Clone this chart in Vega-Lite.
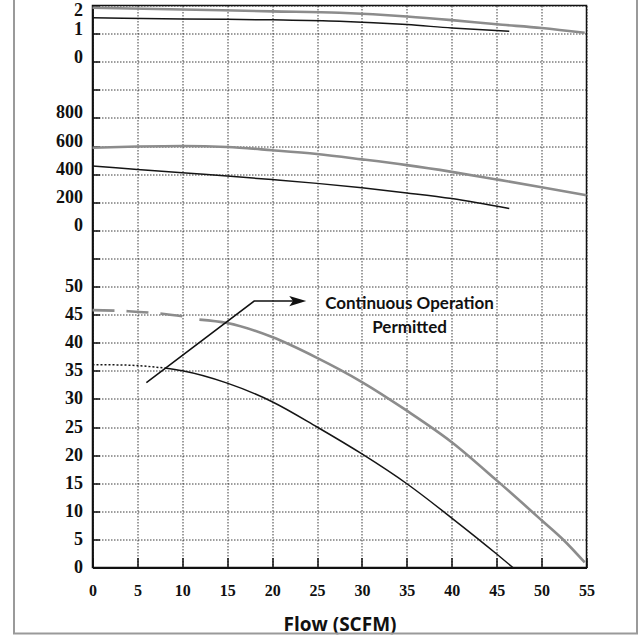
{
  "$schema": "https://vega.github.io/schema/vega-lite/v6.json",
  "width": 494,
  "height": 562,
  "autosize": {"type": "none"},
  "padding": {"left": 92.5, "top": 5.5, "right": 55.5, "bottom": 72.5},
  "background": "white",
  "config": {
    "view": {"stroke": "#111", "strokeWidth": 1.5},
    "legend": {"strokeWidth": 2},
    "axis": {
      "labelFont": "Liberation Serif",
      "labelFontWeight": "bold",
      "labelColor": "#111",
      "domainColor": "#111",
      "domainWidth": 1.8,
      "tickColor": "#111",
      "tickWidth": 1.5,
      "gridColor": "#1a1a1a",
      "gridDash": [1.5, 1.5],
      "gridWidth": 1,
      "gridOpacity": 0.85
    }
  },
  "datasets": {
    "pressure": [
      {"flow": 0, "psi": 45.8, "curve": "upper", "zone": "intermittent"},
      {"flow": 4, "psi": 45.6, "curve": "upper", "zone": "intermittent"},
      {"flow": 8, "psi": 45.1, "curve": "upper", "zone": "intermittent"},
      {"flow": 10.4, "psi": 44.6, "curve": "upper", "zone": "intermittent"},
      {"flow": 11.9, "psi": 44.1, "curve": "upper", "zone": "continuous"},
      {"flow": 15, "psi": 43.5, "curve": "upper", "zone": "continuous"},
      {"flow": 20, "psi": 41.0, "curve": "upper", "zone": "continuous"},
      {"flow": 25, "psi": 37.3, "curve": "upper", "zone": "continuous"},
      {"flow": 30, "psi": 33.0, "curve": "upper", "zone": "continuous"},
      {"flow": 35, "psi": 27.9, "curve": "upper", "zone": "continuous"},
      {"flow": 40, "psi": 22.3, "curve": "upper", "zone": "continuous"},
      {"flow": 45, "psi": 15.5, "curve": "upper", "zone": "continuous"},
      {"flow": 50, "psi": 8.4, "curve": "upper", "zone": "continuous"},
      {"flow": 52.5, "psi": 4.8, "curve": "upper", "zone": "continuous"},
      {"flow": 54.8, "psi": 0.9, "curve": "upper", "zone": "continuous"},
      {"flow": 0, "psi": 36.1, "curve": "lower", "zone": "intermittent"},
      {"flow": 4, "psi": 36.0, "curve": "lower", "zone": "intermittent"},
      {"flow": 8, "psi": 35.5, "curve": "lower", "zone": "intermittent"},
      {"flow": 8, "psi": 35.5, "curve": "lower", "zone": "continuous"},
      {"flow": 10, "psi": 35.0, "curve": "lower", "zone": "continuous"},
      {"flow": 15, "psi": 32.8, "curve": "lower", "zone": "continuous"},
      {"flow": 20, "psi": 29.5, "curve": "lower", "zone": "continuous"},
      {"flow": 25, "psi": 25.0, "curve": "lower", "zone": "continuous"},
      {"flow": 30, "psi": 20.2, "curve": "lower", "zone": "continuous"},
      {"flow": 35, "psi": 14.9, "curve": "lower", "zone": "continuous"},
      {"flow": 40, "psi": 8.8, "curve": "lower", "zone": "continuous"},
      {"flow": 45, "psi": 2.4, "curve": "lower", "zone": "continuous"},
      {"flow": 46.8, "psi": 0, "curve": "lower", "zone": "continuous"}
    ],
    "power": [
      {"flow": 0, "watts": 588, "curve": "upper"},
      {"flow": 5, "watts": 596, "curve": "upper"},
      {"flow": 10, "watts": 600, "curve": "upper"},
      {"flow": 15, "watts": 593, "curve": "upper"},
      {"flow": 20, "watts": 570, "curve": "upper"},
      {"flow": 25, "watts": 543, "curve": "upper"},
      {"flow": 30, "watts": 505, "curve": "upper"},
      {"flow": 35, "watts": 464, "curve": "upper"},
      {"flow": 40, "watts": 416, "curve": "upper"},
      {"flow": 45, "watts": 362, "curve": "upper"},
      {"flow": 50, "watts": 307, "curve": "upper"},
      {"flow": 55, "watts": 250, "curve": "upper"},
      {"flow": 0, "watts": 457, "curve": "lower"},
      {"flow": 5, "watts": 433, "curve": "lower"},
      {"flow": 10, "watts": 409, "curve": "lower"},
      {"flow": 15, "watts": 386, "curve": "lower"},
      {"flow": 20, "watts": 361, "curve": "lower"},
      {"flow": 25, "watts": 334, "curve": "lower"},
      {"flow": 30, "watts": 302, "curve": "lower"},
      {"flow": 35, "watts": 266, "curve": "lower"},
      {"flow": 40, "watts": 226, "curve": "lower"},
      {"flow": 46.4, "watts": 155, "curve": "lower"}
    ],
    "current": [
      {"flow": 0, "amps": 1.92, "curve": "upper"},
      {"flow": 10, "amps": 1.86, "curve": "upper"},
      {"flow": 20, "amps": 1.79, "curve": "upper"},
      {"flow": 27.5, "amps": 1.74, "curve": "upper"},
      {"flow": 35, "amps": 1.61, "curve": "upper"},
      {"flow": 40, "amps": 1.48, "curve": "upper"},
      {"flow": 45, "amps": 1.33, "curve": "upper"},
      {"flow": 50, "amps": 1.2, "curve": "upper"},
      {"flow": 54.8, "amps": 1.03, "curve": "upper"},
      {"flow": 0, "amps": 1.56, "curve": "lower"},
      {"flow": 10, "amps": 1.52, "curve": "lower"},
      {"flow": 20, "amps": 1.49, "curve": "lower"},
      {"flow": 27.5, "amps": 1.44, "curve": "lower"},
      {"flow": 35, "amps": 1.32, "curve": "lower"},
      {"flow": 40, "amps": 1.2, "curve": "lower"},
      {"flow": 46.4, "amps": 1.08, "curve": "lower"}
    ],
    "arrow": [
      {"flow": 6.0, "psi": 32.9, "step": 1},
      {"flow": 18.0, "psi": 47.4, "step": 2},
      {"flow": 22.85, "psi": 47.4, "step": 3}
    ],
    "notes": [
      {"flow": 35.3, "psi": 46.8, "text": "Continuous Operation"},
      {"flow": 35.3, "psi": 42.7, "text": "Permitted"}
    ]
  },
  "encoding": {
    "x": {
      "field": "flow",
      "type": "quantitative",
      "scale": {"domain": [0, 55], "nice": false, "zero": false},
      "axis": {
        "values": [0, 5, 10, 15, 20, 25, 30, 35, 40, 45, 50, 55],
        "grid": true,
        "tickSize": -10,
        "labelFontSize": 16,
        "labelPadding": 25,
        "labelFlush": false,
        "title": "Flow (SCFM)",
        "titleFont": "Open Sans",
        "titleFontSize": 19,
        "titleFontWeight": "bold",
        "titleColor": "#111",
        "titlePadding": 17
      }
    }
  },
  "layer": [
    {
      "data": {"name": "pressure"},
      "encoding": {
        "y": {
          "field": "psi",
          "type": "quantitative",
          "scale": {"domain": [0, 100], "nice": false, "zero": false},
          "axis": {
            "orient": "left",
            "values": [0, 5, 10, 15, 20, 25, 30, 35, 40, 45, 50, 55, 60, 65, 70, 75, 80, 85, 90, 95, 100],
            "labelExpr": "datum.value <= 50 ? datum.label : ''",
            "grid": true,
            "tickSize": -7,
            "labelPadding": 17,
            "labelFontSize": 18,
            "labelFlush": false,
            "title": null
          }
        }
      },
      "layer": [
        {
          "transform": [{"filter": "datum.zone === 'continuous'"}],
          "mark": {"type": "line", "interpolate": "monotone"},
          "encoding": {
            "color": {"field": "curve", "type": "nominal", "scale": {"domain": ["upper", "lower"], "range": ["#8c8c8c", "#151515"]}, "legend": null},
            "strokeWidth": {"field": "curve", "type": "nominal", "scale": {"domain": ["upper", "lower"], "range": [2.6, 1.5]}, "legend": null}
          }
        },
        {
          "transform": [{"filter": "datum.zone === 'intermittent' && datum.curve === 'upper'"}],
          "mark": {"type": "line", "interpolate": "monotone", "color": "#8c8c8c", "strokeWidth": 2.6, "strokeDash": [22, 12]},
          "encoding": {}
        },
        {
          "transform": [{"filter": "datum.zone === 'intermittent' && datum.curve === 'lower'"}],
          "mark": {"type": "line", "interpolate": "monotone", "color": "#151515", "strokeWidth": 1.5, "strokeDash": [2, 2]},
          "encoding": {}
        },
        {
          "data": {"name": "arrow"},
          "mark": {"type": "line", "color": "#111", "strokeWidth": 1.5},
          "encoding": {"order": {"field": "step", "type": "quantitative"}}
        },
        {
          "data": {"name": "arrow"},
          "transform": [{"filter": "datum.step === 3"}],
          "mark": {"type": "point", "shape": "M1,0L-1,-0.6L-0.55,0L-1,0.6Z", "size": 289, "filled": true, "color": "#111", "opacity": 1, "strokeWidth": 0}
        },
        {
          "data": {"name": "notes"},
          "mark": {"type": "text", "font": "Lato", "fontSize": 17, "fontWeight": "bold", "align": "center", "baseline": "middle"},
          "encoding": {
            "text": {"field": "text"},
            "fill": {
              "field": "psi",
              "type": "quantitative",
              "scale": {"range": ["#111", "#111"]},
              "legend": {
                "orient": "none",
                "legendX": -78.5,
                "legendY": -20,
                "direction": "vertical",
                "gradientLength": 648,
                "gradientThickness": 623,
                "gradientOpacity": 0,
                "gradientStrokeWidth": 0,
                "labelExpr": "''",
                "labelFontSize": 1,
                "labelOffset": 0,
                "title": null,
                "padding": 0,
                "strokeColor": "#9a9a9a"
              }
            }
          }
        }
      ]
    },
    {
      "data": {"name": "power"},
      "mark": {"type": "line", "interpolate": "monotone"},
      "encoding": {
        "y": {
          "field": "watts",
          "type": "quantitative",
          "scale": {"domain": [-2400, 1600], "nice": false, "zero": false},
          "axis": {
            "orient": "left",
            "values": [0, 200, 400, 600, 800],
            "grid": false,
            "ticks": false,
            "domain": false,
            "labelPadding": 10,
            "labelFontSize": 18,
            "labelOffset": -5,
            "labelFlush": false,
            "title": null
          }
        },
        "color": {"field": "curve", "type": "nominal", "scale": {"domain": ["upper", "lower"], "range": ["#8c8c8c", "#151515"]}, "legend": null},
        "strokeWidth": {"field": "curve", "type": "nominal", "scale": {"domain": ["upper", "lower"], "range": [2.6, 1.5]}, "legend": null}
      }
    },
    {
      "data": {"name": "current"},
      "mark": {"type": "line", "interpolate": "monotone"},
      "encoding": {
        "y": {
          "field": "amps",
          "type": "quantitative",
          "scale": {"domain": [-18, 2], "nice": false, "zero": false},
          "axis": {
            "orient": "left",
            "values": [0, 1, 2],
            "grid": false,
            "ticks": false,
            "domain": false,
            "labelPadding": 10,
            "labelFontSize": 18,
            "labelOffset": -4.5,
            "labelFlush": true,
            "title": null
          }
        },
        "color": {"field": "curve", "type": "nominal", "scale": {"domain": ["upper", "lower"], "range": ["#8c8c8c", "#151515"]}, "legend": null},
        "strokeWidth": {"field": "curve", "type": "nominal", "scale": {"domain": ["upper", "lower"], "range": [2.6, 1.5]}, "legend": null}
      }
    }
  ],
  "resolve": {"scale": {"y": "independent"}}
}
